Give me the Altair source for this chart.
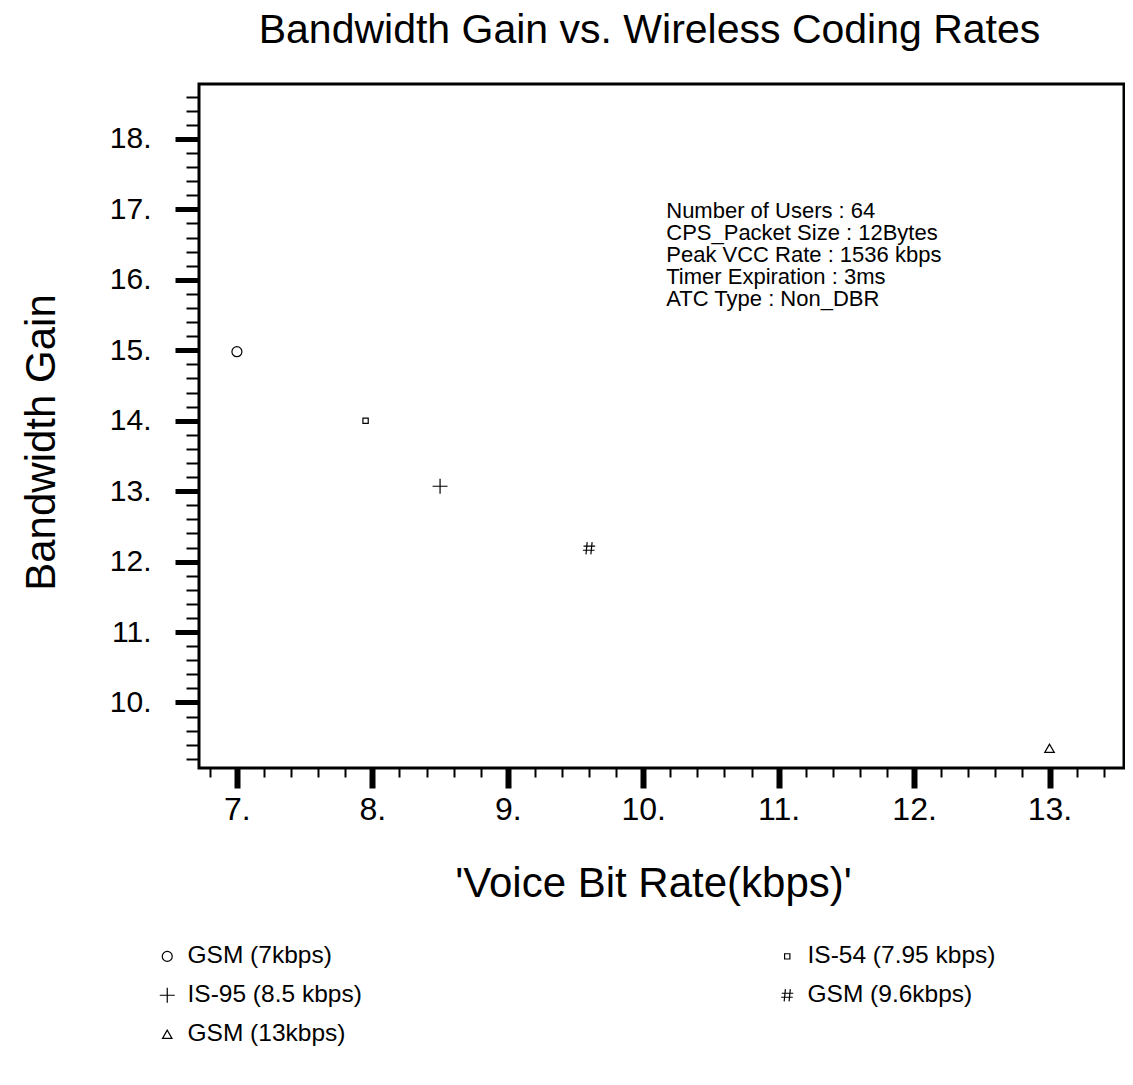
import altair as alt
import pandas as pd

# ---- data ----
labels = ["GSM (7kbps)", "IS-95 (8.5 kbps)", "GSM (13kbps)", "IS-54 (7.95 kbps)", "GSM (9.6kbps)"]
voice_rate = [7.0, 8.5, 13.0, 7.95, 9.6]
bw_gain = [14.98, 13.07, 9.35, 14.0, 12.19]

x_major = [7, 8, 9, 10, 11, 12, 13]
y_major = [10, 11, 12, 13, 14, 15, 16, 17, 18]
x_minor = [round(6.8 + 0.2 * i, 1) for i in range(34) if abs((6.8 + 0.2 * i) - round(6.8 + 0.2 * i)) > 1e-6]
y_minor = [round(9.2 + 0.2 * i, 1) for i in range(48) if abs((9.2 + 0.2 * i) - round(9.2 + 0.2 * i)) > 1e-6]

annotation_lines = [
    "Number of Users : 64",
    "CPS_Packet Size : 12Bytes",
    "Peak VCC Rate : 1536 kbps",
    "Timer Expiration : 3ms",
    "ATC Type : Non_DBR",
]
annotation_x = [10.17]
annotation_y = [17.12]

FONT = "Liberation Sans"

df = pd.DataFrame({"label": labels, "rate": voice_rate, "gain": bw_gain})
ann = pd.DataFrame({"x": annotation_x, "y": annotation_y, "text": ["\n".join(annotation_lines)]})

xscale = alt.Scale(domain=[6.72, 13.55], nice=False, zero=False)
yscale = alt.Scale(domain=[9.07, 18.78], nice=False, zero=False)

shape_paths = [
    "circle",
    "M-1,0L1,0M0,-1L0,1",
    "triangle-up",
    "square",
    "M-0.3,-1L-0.5,1M0.5,-1L0.3,1M-0.9,-0.33L1,-0.33M-1,0.33L0.9,0.33",
]
sizes = [100, 225, 90, 28, 150]

legend_props = dict(orient="none", legendX=-44, legendY=860, columns=2,
                    columnPadding=413, rowPadding=14, title=None,
                    labelFontSize=24.5, labelFont=FONT, labelColor="black", labelLimit=500,
                    labelOffset=8, symbolStrokeColor="black",
                    symbolStrokeWidth=1.2)

points = alt.Chart(df).mark_point(filled=False, color="black", strokeWidth=1.2, opacity=1).encode(
    x=alt.X("rate:Q", scale=xscale,
            axis=alt.Axis(orient="bottom", values=x_major, tickSize=20, tickWidth=6, tickColor="black",
                          labelExpr="datum.value + '.'", labelFontSize=32, labelPadding=6,
                          labelFont=FONT, labelColor="black", domain=False, grid=False,
                          title="'Voice Bit Rate(kbps)'", titleFont=FONT, titleFontSize=42,
                          titleFontWeight="normal", titleColor="black", titlePadding=38,
                          titleX=454)),
    y=alt.Y("gain:Q", scale=yscale,
            axis=alt.Axis(orient="left", values=y_major, tickSize=24, tickWidth=5, tickColor="black",
                          labelExpr="datum.value + '.'", labelFontSize=30, labelPadding=24,
                          labelFont=FONT, labelColor="black", domain=False, grid=False,
                          title="Bandwidth Gain", titleFont=FONT, titleFontSize=42,
                          titleFontWeight="normal", titleColor="black", titlePadding=46,
                          titleY=358)),
    shape=alt.Shape("label:N", scale=alt.Scale(domain=labels, range=shape_paths),
                    legend=alt.Legend(**legend_props)),
    size=alt.Size("label:N", scale=alt.Scale(type="ordinal", domain=labels, range=sizes),
                  legend=alt.Legend(**legend_props)),
)

minor = alt.Chart(df).mark_point(opacity=0).encode(
    x=alt.X("rate:Q", scale=xscale,
            axis=alt.Axis(orient="bottom", values=x_minor, tickSize=9, tickWidth=2, tickColor="black",
                          labels=False, domain=False, grid=False, title=None)),
    y=alt.Y("gain:Q", scale=yscale,
            axis=alt.Axis(orient="left", values=y_minor, tickSize=13, tickWidth=2, tickColor="black",
                          labels=False, domain=False, grid=False, title=None)),
)

note = alt.Chart(ann).mark_text(align="left", baseline="top", lineBreak="\n", fontSize=22,
                                lineHeight=22, font=FONT, color="black").encode(
    x=alt.X("x:Q", scale=xscale, axis=None),
    y=alt.Y("y:Q", scale=yscale, axis=None),
    text="text:N",
)

chart = alt.layer(points, minor, note).resolve_axis(x="independent", y="independent").properties(
    width=925, height=684,
    title=alt.TitleParams("Bandwidth Gain vs. Wireless Coding Rates", font=FONT, fontSize=41,
                          fontWeight="normal", color="black", anchor="middle", offset=32, dx=-12),
    padding={"left": 12, "top": 2, "right": 1, "bottom": 0},
).configure(background="white").configure_view(stroke="black", strokeWidth=3)

chart.save("out.html", embed_options={"renderer": "svg", "actions": False})
